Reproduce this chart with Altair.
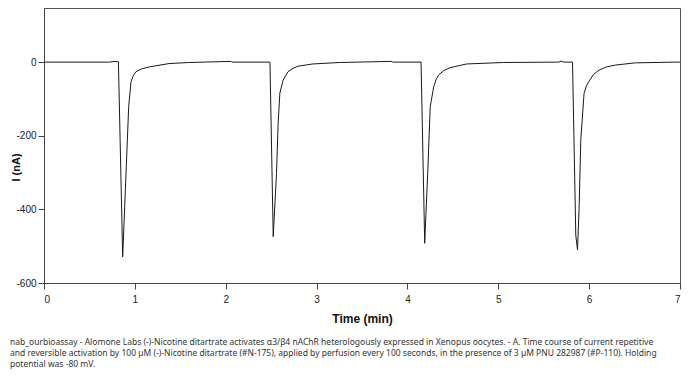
import altair as alt
import pandas as pd

# Time (min) and current (nA)
time_min = [
    0.000, 0.721, 0.775, 0.819, 0.866, 0.903, 0.932, 0.958, 0.985, 1.012, 1.080, 1.158, 1.376, 1.594, 2.060, 2.066, 2.479,
    2.487, 2.523, 2.559, 2.577, 2.596, 2.632, 2.686, 2.740, 2.796, 2.959, 3.254, 3.830, 3.836, 4.150,
    4.190, 4.223, 4.251, 4.289, 4.315, 4.343, 4.400, 4.470, 4.652, 5.056, 5.668, 5.690, 5.720, 5.817,
    5.853, 5.872, 5.890, 5.908, 5.944, 5.970, 5.999, 6.050, 6.108, 6.190, 6.290, 6.509, 6.946, 7.000,
]
current_na = [
    0, 0, 2, 1, -529, -301, -121, -53, -36, -26, -18, -13, -4, -1, 2, 0, 0,
    0, -474, -302, -166, -84, -49, -26, -17, -11, -5, -1, 2, 0, 0,
    -492, -302, -121, -67, -48, -35, -23, -15, -5, -1, 0, 3, 0, 0,
    -470, -510, -393, -212, -85, -64, -52, -33, -22, -13, -8, -2, 0, 0,
]

x_ticks = [0, 1, 2, 3, 4, 5, 6, 7]
y_ticks = [0, -200, -400, -600]

caption = [
    "nab_ourbioassay - Alomone Labs (-)-Nicotine ditartrate activates \u03b13/\u03b24 nAChR heterologously expressed in Xenopus oocytes. - A. Time course of current repetitive",
    "and reversible activation by 100 \u00b5M (-)-Nicotine ditartrate (#N-175), applied by perfusion every 100 seconds, in the presence of 3 \u00b5M PNU 282987 (#P-110). Holding",
    "potential was -80 mV.",
]

df = pd.DataFrame({"t": time_min, "i": current_na, "order": list(range(len(time_min)))})

lab_font = "Liberation Sans"

chart = (
    alt.Chart(df)
    .mark_line(color="#1a1a1a", strokeWidth=1, interpolate="linear")
    .encode(
        x=alt.X(
            "t:Q",
            scale=alt.Scale(domain=[0, 7], nice=False, zero=False),
            axis=alt.Axis(
                values=x_ticks, title="Time (min)", grid=False, tickSize=6,
                labelPadding=5, labelFontSize=10, labelFont=lab_font, labelColor="#222",
                titleFont=lab_font, titleFontSize=12, titleFontWeight="bold", titleColor="#111",
                titlePadding=9, domainColor="#444", tickColor="#444",
            ),
        ),
        y=alt.Y(
            "i:Q",
            scale=alt.Scale(domain=[-600, 147], nice=False, zero=False),
            axis=alt.Axis(
                values=y_ticks, title="I (nA)", grid=False, tickSize=6,
                labelPadding=2, labelFontSize=10, labelFont=lab_font, labelColor="#222",
                labelExpr="replace(datum.label, '\u2212', '-')",
                titleFont=lab_font, titleFontSize=11, titleFontWeight="bold", titleColor="#111",
                titleX=-23, titleY=159, titleBaseline="bottom",
                domainColor="#444", tickColor="#444",
            ),
        ),
        order="order:Q",
    )
    .properties(
        width=636,
        height=275,
        autosize=alt.AutoSizeParams(type="none"),
        padding={"left": 36, "top": 0, "right": 1, "bottom": 86},
        title=alt.TitleParams(
            text=caption, orient="bottom", anchor="start", font="Noto Sans",
            fontSize=8.5, fontWeight="normal", color="#333", dx=0, offset=14,
            lineHeight=11,
        ),
    )
    .configure_view(stroke="#555", strokeWidth=1)
)

chart.save("out.html", embed_options={"renderer": "svg", "actions": False})
